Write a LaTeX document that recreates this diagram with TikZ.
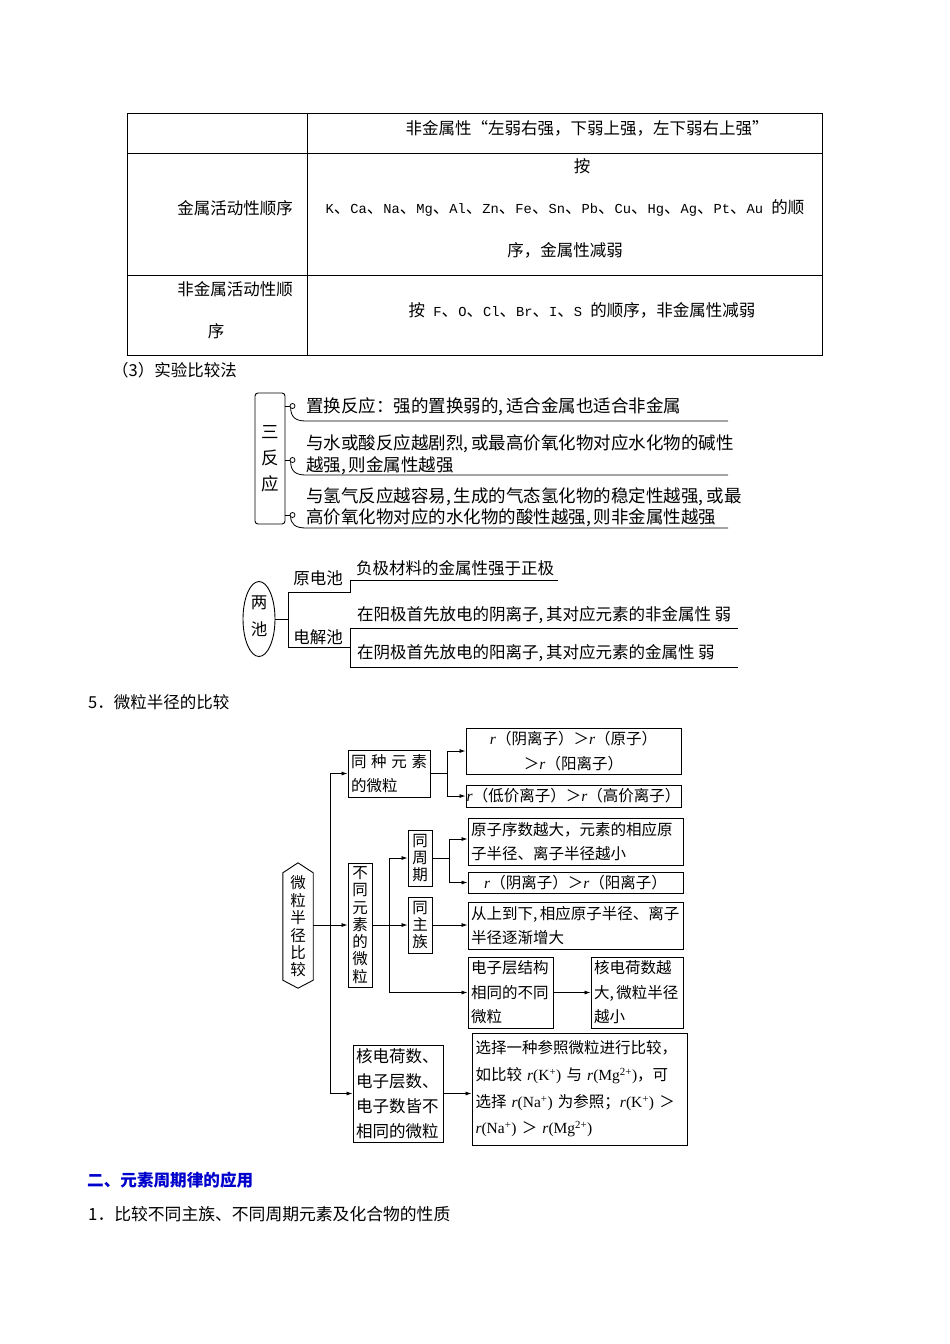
\documentclass[tikz,border=0pt]{standalone}
\usepackage{fontspec}
\setmainfont{Noto Sans CJK SC}
\newfontfamily\latf{Liberation Serif}
\newfontfamily\monof{Liberation Mono}
\usetikzlibrary{arrows.meta,shapes.geometric}
\definecolor{headblue}{RGB}{0,0,204}
\newcommand{\fsz}[2]{\fontsize{#1}{#2}\selectfont}
\newcommand{\rit}{{\latf\itshape r}}
\newcommand{\ionr}[2]{{\latf\textit{r}(#1\textsuperscript{#2})}}
\newcommand{\hw}[1]{{\monof\fontsize{13.75}{20}\selectfont #1}}
\begin{document}
\begin{tikzpicture}[x=1pt,y=-1pt,
  tl/.style={line width=0.8pt},
  txt/.style={inner sep=0pt},
  bx/.style={draw, line width=0.9pt, inner sep=0pt, font=\fsz{15.5}{24.5}},
  vbx/.style={draw, line width=0.9pt, inner sep=0pt, align=center, minimum width=24pt, font=\fsz{15.5}{17.3}},
  ln/.style={line width=0.8pt},
  arr/.style={line width=0.8pt,-{Latex[length=6pt,width=4pt]}}]
\fill[white] (0,0) rectangle (950,1344);
\useasboundingbox (0,0) rectangle (950,1344);

% ---------- table ----------
\draw[tl] (127,113) rectangle (822,355);
\draw[tl] (307,113) -- (307,355);
\draw[tl] (127,153) -- (822,153);
\draw[tl] (127,275) -- (822,275);
\begin{scope}[font=\fsz{16.5}{20}]
\node[txt] (r1) at (587,128) {非金属性“左弱右强，下弱上强，左下弱右上强”};
\node[txt] (r2a) at (582,166) {按};
\node[txt] (r2b) at (565,208) {\hw{K}、\hw{Ca}、\hw{Na}、\hw{Mg}、\hw{Al}、\hw{Zn}、\hw{Fe}、\hw{Sn}、\hw{Pb}、\hw{Cu}、\hw{Hg}、\hw{Ag}、\hw{Pt}、\hw{Au }的顺};
\node[txt] (r2c) at (565,250) {序，金属性减弱};
\node[txt] (l2) at (235,208) {金属活动性顺序};
\node[txt] (l3a) at (235,289) {非金属活动性顺};
\node[txt] (l3b) at (216,331) {序};
\node[txt] (r3) at (582,310) {按\hw{ F}、\hw{O}、\hw{Cl}、\hw{Br}、\hw{I}、\hw{S }的顺序，非金属性减弱};
\node[txt,anchor=west] (h3) at (112,370) {（3）实验比较法};
\end{scope}

% ---------- three reactions ----------
\node[draw, rounded corners=3pt, line width=0.9pt, minimum width=30pt, minimum height=131pt,
      inner sep=0pt, align=center, font=\fsz{17.5}{26}] (SF) at (270,458.5) {三\\反\\应};
\foreach \yy/\uu in {406/421,460/475,515/528}{
  \draw[ln] (285,\yy) -- (290,\yy);
  \draw[ln] (292.5,\yy) circle[radius=2.5];
  \draw[ln] (290.6,\yy+1.6) .. controls (291,\uu-4) and (295,\uu) .. (306,\uu) -- (728,\uu);
}
\node[txt,anchor=west,font=\fsz{17.5}{21}] (i1) at (306,407) {置换反应：强的置换弱的,\,适合金属也适合非金属};
\node[txt,anchor=west,align=left,font=\fsz{17.5}{22}] (i2) at (306,455) {与水或酸反应越剧烈,\,或最高价氧化物对应水化物的碱性\\越强,\,则金属性越强};
\node[txt,anchor=west,align=left,font=\fsz{17.5}{21}] (i3) at (306,507) {与氢气反应越容易,\,生成的气态氢化物的稳定性越强,\,或最\\高价氧化物对应的水化物的酸性越强,\,则非金属性越强};

% ---------- two cells ----------
\node[draw,ellipse,line width=0.9pt,minimum width=32pt,minimum height=75pt,inner sep=0pt] (LC) at (259,619) {};
\node[txt,align=center,font=\fsz{16.5}{27}] (LCt) at (259,616.5) {两\\池};
\coordinate (J0) at (288,619);
\coordinate (Ja) at (288,592);
\coordinate (Jb) at (288,647);
\draw[ln] (LC.east) -- (J0);
\draw[ln] (Ja) -- (Jb);
\draw[ln] (Ja) -- (350,592) -- (350,580) -- (558,580);
\draw[ln] (Jb) -- (350,647);
\draw[ln] (350,628) -- (350,667);
\draw[ln] (350,628) -- (738,628);
\draw[ln] (350,667) -- (738,667);
\begin{scope}[font=\fsz{16.5}{20}]
\node[txt] (YD) at (318,578) {原电池};
\node[txt] (DJ) at (318,637) {电解池};
\node[txt,anchor=west] (P1) at (356,568) {负极材料的金属性强于正极};
\node[txt,anchor=west] (P2) at (357,615) {在阳极首先放电的阴离子,\,其对应元素的非金属性 弱};
\node[txt,anchor=west] (P3) at (357,653) {在阴极首先放电的阳离子,\,其对应元素的金属性 弱};
\node[txt,anchor=west] (h5) at (88,702) {5．微粒半径的比较};
\end{scope}

% ---------- particle radius ----------
\node[txt,align=center,minimum width=30pt,minimum height=107pt,font=\fsz{15.5}{17.4}] (HX) at (298,926.5) {微\\粒\\半\\径\\比\\较};
\draw[line width=0.9pt] (HX.south west) -- (HX.north west) -- ([yshift=10pt]HX.north) -- (HX.north east)
  -- (HX.south east) -- ([yshift=-8pt]HX.south) -- cycle;

\node[bx,minimum width=82pt,minimum height=47pt,text width=76pt,align=left] (SZ) at (389,773.5) {同\hfill 种\hfill 元\hfill 素\\的微粒};
\node[bx,minimum width=215pt,minimum height=46pt,align=center] (A1) at (573.5,751) {\rit（阴离子）＞\rit（原子）\\＞\rit（阳离子）};
\node[bx,minimum width=215pt,minimum height=22pt] (A2) at (573.5,796) {\rit（低价离子）＞\rit（高价离子）};

\node[vbx,minimum height=124pt] (BT) at (360,925) {不\\同\\元\\素\\的\\微\\粒};
\node[vbx,minimum height=56pt] (TZ) at (420,858) {同\\周\\期};
\node[vbx,minimum height=56pt] (ZZ) at (420,925) {同\\主\\族};

\node[bx,minimum width=215pt,minimum height=47pt,text width=209pt,align=left] (B1) at (575.5,841.5) {原子序数越大，元素的相应原\\子半径、离子半径越小};
\node[bx,minimum width=215pt,minimum height=21pt] (B2) at (575.5,882.5) {\rit（阴离子）＞\rit（阳离子）};
\node[bx,minimum width=215pt,minimum height=47pt,text width=209pt,align=left] (C) at (575.5,925.5) {从上到下,\,相应原子半径、离子\\半径逐渐增大};
\node[bx,minimum width=85pt,minimum height=71pt,text width=79pt,align=left] (D) at (510.5,992.5) {电子层结构\\相同的不同\\微粒};
\node[bx,minimum width=92pt,minimum height=71pt,text width=86pt,align=left] (E) at (637,992.5) {核电荷数越\\大,\,微粒半径\\越小};
\node[bx,minimum width=90pt,minimum height=97pt,text width=84pt,align=left,font=\fsz{16.5}{25}] (F) at (398,1093.5) {核电荷数、\\电子层数、\\电子数皆不\\相同的微粒};
\node[bx,minimum width=215pt,minimum height=112pt,text width=208pt,align=left,font=\fsz{15.5}{26.7}] (G) at (579.5,1089)
 {选择一种参照微粒进行比较，\\如比较 \ionr{K}{+} 与 \ionr{Mg}{2+}，可\\选择 \ionr{Na}{+} 为参照；\ionr{K}{+} ＞\\\ionr{Na}{+} ＞ \ionr{Mg}{2+}};

% connectors
\coordinate (T1) at (330,773.5);
\coordinate (T2) at (330,1093.5);
\draw[ln] (T1) -- (T2);
\draw[arr] (T1) -- (SZ.west);
\draw[arr] (T2) -- (F.west);
\draw[arr] (HX.east |- BT.west) -- (BT.west);

\coordinate (S0) at (447,773.5);
\coordinate (S1) at (447,751);
\coordinate (S2) at (447,796);
\draw[ln] (SZ.east) -- (S0);
\draw[ln] (S1) -- (S2);
\draw[arr] (S1) -- (A1.west);
\draw[arr] (S2) -- (A2.west);

\coordinate (U0) at (389,925);
\coordinate (U1) at (389,858);
\coordinate (U2) at (389,992.5);
\draw[ln] (BT.east) -- (U0);
\draw[ln] (U1) -- (U2);
\draw[arr] (U1) -- (TZ.west);
\draw[arr] (U0) -- (ZZ.west);
\draw[arr] (U2) -- (D.west);

\coordinate (V0) at (449,858);
\coordinate (V1) at (449,839);
\coordinate (V2) at (449,882.5);
\draw[ln] (TZ.east) -- (V0);
\draw[ln] (V1) -- (V2);
\draw[arr] (V1) -- (V1 -| B1.west);
\draw[arr] (V2) -- (B2.west);
\draw[arr] (ZZ.east) -- (ZZ.east -| C.west);
\draw[arr] (D.east) -- (E.west);
\draw[arr] (F.east) -- (F.east -| G.west);

% ---------- bottom text ----------
\node[txt,anchor=west,font=\fsz{16.6}{20}\bfseries,text=headblue] (h2) at (87,1180) {二、元素周期律的应用};
\node[txt,anchor=west,font=\fsz{16.8}{20}] (h1) at (88,1214) {1．比较不同主族、不同周期元素及化合物的性质};
\end{tikzpicture}
\end{document}
